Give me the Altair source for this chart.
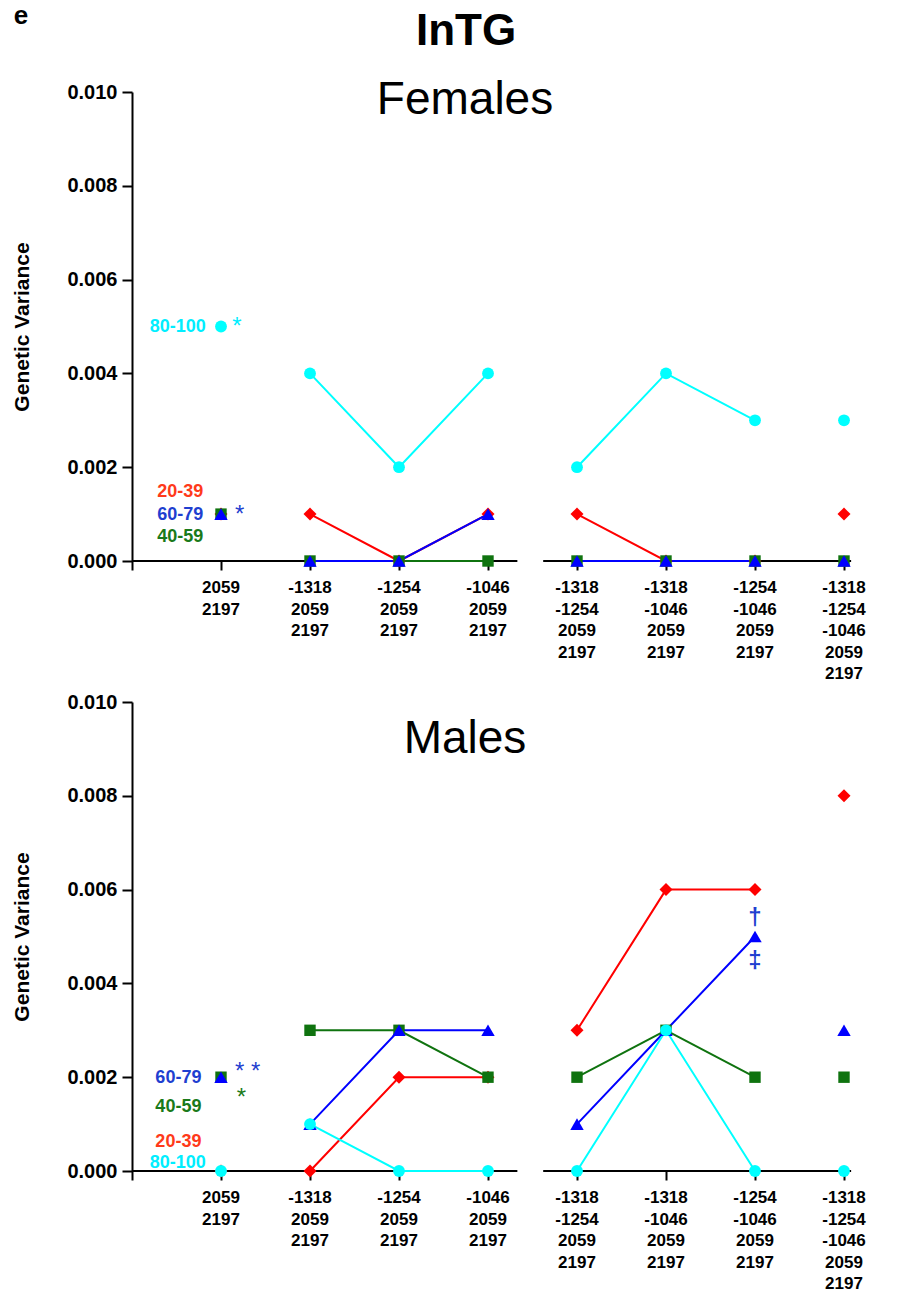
import altair as alt
import pandas as pd

# ---------------- data ----------------
categories = [
    "2059\n2197",
    "-1318\n2059\n2197",
    "-1254\n2059\n2197",
    "-1046\n2059\n2197",
    "-1318\n-1254\n2059\n2197",
    "-1318\n-1046\n2059\n2197",
    "-1254\n-1046\n2059\n2197",
    "-1318\n-1254\n-1046\n2059\n2197",
]
positions = [1, 2, 3, 4, 5, 6, 7, 8]
line_groups = ["g1", "g2", "g2", "g2", "g3", "g3", "g3", "g4"]

ages = ["20-39", "40-59", "60-79", "80-100"]
age_colors = ["#ff0000", "#0f730f", "#0000ff", "#00ffff"]
age_shapes = ["diamond", "square", "triangle-up", "circle"]
age_sizes = [170, 130, 180, 140]

# Females
f_20_39 = [0.001, 0.001, 0.000, 0.001, 0.001, 0.000, 0.000, 0.001]
f_40_59 = [0.001, 0.000, 0.000, 0.000, 0.000, 0.000, 0.000, 0.000]
f_60_79 = [0.001, 0.000, 0.000, 0.001, 0.000, 0.000, 0.000, 0.000]
f_80_100 = [0.005, 0.004, 0.002, 0.004, 0.002, 0.004, 0.003, 0.003]

# Males
m_20_39 = [0.000, 0.000, 0.002, 0.002, 0.003, 0.006, 0.006, 0.008]
m_40_59 = [0.002, 0.003, 0.003, 0.002, 0.002, 0.003, 0.002, 0.002]
m_60_79 = [0.002, 0.001, 0.003, 0.003, 0.001, 0.003, 0.005, 0.003]
m_80_100 = [0.000, 0.001, 0.000, 0.000, 0.000, 0.003, 0.000, 0.000]

# broken x-axis line segments (data units)
axis_seg_start = [0.0, 4.62]
axis_seg_end = [4.33, 8.08]

# in-plot annotations: text, x, y, colour, align, size, weight
f_ann_text = ["80-100", "*", "20-39", "60-79", "40-59", "*"]
f_ann_x = [0.83, 1.18, 0.80, 0.80, 0.80, 1.21]
f_ann_y = [0.0050, 0.0050, 0.00147, 0.00098, 0.00051, 0.00098]
f_ann_col = ["#00eeff", "#00eeff", "#ff3a1a", "#1f3fd0", "#1a7a1a", "#1f3fd0"]
f_ann_align = ["right", "center", "right", "right", "right", "center"]
f_ann_size = [18, 24, 18, 18, 18, 24]
f_ann_weight = ["bold", "normal", "bold", "bold", "bold", "normal"]

m_ann_text = ["60-79", "40-59", "20-39", "80-100", "* *", "*", "\u2020", "\u2021"]
m_ann_x = [0.78, 0.78, 0.78, 0.83, 1.30, 1.23, 7.0, 7.0]
m_ann_y = [0.00198, 0.00136, 0.00062, 0.00017, 0.00212, 0.00156, 0.0054, 0.00447]
m_ann_col = ["#1f3fd0", "#1a7a1a", "#ff3a1a", "#00eeff", "#1f3fd0", "#1a7a1a", "#1f3fd0", "#1f3fd0"]
m_ann_align = ["right", "right", "right", "right", "center", "center", "center", "center"]
m_ann_size = [18, 18, 18, 18, 24, 24, 24, 24]
m_ann_weight = ["bold", "bold", "bold", "bold", "normal", "normal", "bold", "bold"]

FONT = "Liberation Sans"
W = 756.5
H = 469

xs = alt.Scale(domain=[0, 8.5], nice=False, zero=False)
ys = alt.Scale(domain=[0, 0.010], nice=False, zero=False)

x_axis = alt.Axis(values=list(range(9)), labels=False, domain=False, grid=False,
                  ticks=True, tickSize=9, tickWidth=2, tickColor="black", title=None)
y_axis = alt.Axis(values=[0, 0.002, 0.004, 0.006, 0.008, 0.010], format=".3f",
                  domain=True, domainColor="black", domainWidth=2,
                  ticks=True, tickSize=10, tickWidth=2, tickColor="black",
                  labelFont=FONT, labelFontSize=20, labelFontWeight="bold",
                  labelColor="black", labelPadding=5, grid=False,
                  title="Genetic Variance", titleFont=FONT, titleFontSize=21,
                  titleFontWeight="bold", titleColor="black", titlePadding=34)


def X():
    return alt.X("x:Q", scale=xs, axis=x_axis, title=None)


def Y():
    return alt.Y("y:Q", scale=ys, axis=y_axis, title="Genetic Variance")


def long_df(series):
    rows = []
    for age, sz, vals in zip(ages, age_sizes, series):
        for p, g, v in zip(positions, line_groups, vals):
            rows.append({"age": age, "x": p, "y": v, "grp": g, "sz": sz})
    return pd.DataFrame(rows)


def panel(series, ann, title_text, title_y, extra=None):
    df = long_df(series)
    axis_df = pd.DataFrame({"x": axis_seg_start, "x2": axis_seg_end, "y": [0.0, 0.0]})
    tick_df = pd.DataFrame({"x": positions, "y": [0.0] * len(positions), "lab": categories})
    ann_df = pd.DataFrame({"txt": ann[0], "x": ann[1], "y": ann[2], "col": ann[3],
                           "al": ann[4], "sz": ann[5], "wt": ann[6]})

    color = alt.Color("age:N", scale=alt.Scale(domain=ages, range=age_colors), legend=None)
    shape = alt.Shape("age:N", scale=alt.Scale(domain=ages, range=age_shapes), legend=None)

    axis_layer = alt.Chart(axis_df).mark_rule(color="black", strokeWidth=2).encode(
        x=X(), x2="x2:Q", y=Y())
    lines = alt.Chart(df).mark_line(strokeWidth=2).encode(
        x=X(), y=Y(), color=color, detail="grp:N")
    points = alt.Chart(df).mark_point(filled=True, opacity=1).encode(
        x=X(), y=Y(), color=color, shape=shape,
        size=alt.Size("sz:Q", scale=None, legend=None))
    ticks = alt.Chart(tick_df).mark_text(
        font=FONT, fontSize=17, fontWeight="bold", color="black", baseline="top",
        align="center", lineBreak="\n", lineHeight=21.5, dy=19).encode(
        x=X(), y=Y(), text="lab:N")

    ann_layers = []
    for al in ["right", "center"]:
        for wt in ["bold", "normal"]:
            sub = ann_df[(ann_df["al"] == al) & (ann_df["wt"] == wt)]
            if len(sub) == 0:
                continue
            ann_layers.append(alt.Chart(sub).mark_text(
                font=FONT, fontWeight=wt, baseline="middle", align=al).encode(
                x=X(), y=Y(), text="txt:N",
                color=alt.Color("col:N", scale=None),
                size=alt.Size("sz:Q", scale=None)))

    ttl = alt.Chart(pd.DataFrame({"t": [title_text]})).mark_text(
        font=FONT, fontSize=46, color="black", baseline="alphabetic", align="center").encode(
        x=alt.value(333), y=alt.value(title_y), text="t:N")

    layers = [axis_layer, lines, points, ticks] + ann_layers + [ttl]
    if extra is not None:
        layers += extra
    return alt.layer(*layers).resolve_scale(color="independent", size="independent").properties(width=W, height=H)


head_main = alt.Chart(pd.DataFrame({"t": ["InTG"]})).mark_text(
    font=FONT, fontSize=44, fontWeight="bold", color="black", baseline="alphabetic",
    align="center").encode(x=alt.value(334), y=alt.value(-47), text="t:N")
head_letter = alt.Chart(pd.DataFrame({"t": ["e"]})).mark_text(
    font=FONT, fontSize=26, fontWeight="bold", color="black", baseline="alphabetic",
    align="center").encode(x=alt.value(-111), y=alt.value(-68), text="t:N")

top = panel([f_20_39, f_40_59, f_60_79, f_80_100],
            (f_ann_text, f_ann_x, f_ann_y, f_ann_col, f_ann_align, f_ann_size, f_ann_weight),
            "Females", 22, extra=[head_main, head_letter])
bottom = panel([m_20_39, m_40_59, m_60_79, m_80_100],
               (m_ann_text, m_ann_x, m_ann_y, m_ann_col, m_ann_align, m_ann_size, m_ann_weight),
               "Males", 51)

chart = alt.vconcat(top, bottom, spacing=141, bounds="flush").properties(
    padding={"left": 11, "top": 3, "right": 5, "bottom": 0},
    background="white",
).configure_view(strokeWidth=0, stroke=None)

chart.save("out.html", embed_options={"renderer": "svg", "actions": False})
